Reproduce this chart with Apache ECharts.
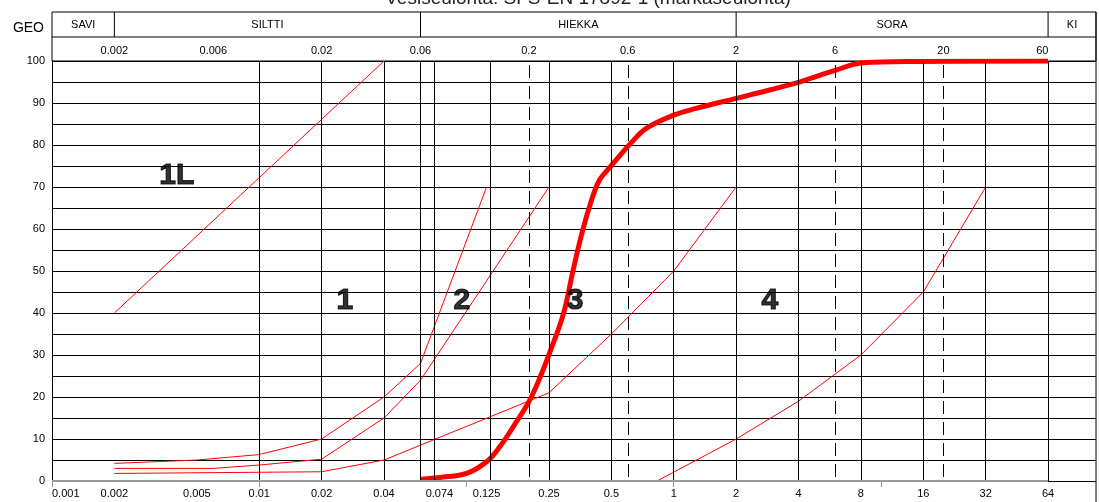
<!DOCTYPE html>
<html lang="fi">
  <head>
    <meta charset="UTF-8" />
    <script src="https://cdn.jsdelivr.net/npm/echarts@6/dist/echarts.min.js"></script>
    <title>Rakeisuuskäyrä</title>
    <style>
      html, body { margin: 0; padding: 0; background: #fff; }
      #app { width: 1099px; height: 502px; }
    </style>
  </head>
  <body>
    <div id="app"></div>

    <script>
      // raekoko (mm), log-asteikko
      const xMin = 0.001;
      const xMax = 109; // ruudukko jatkuu hieman 64 mm ohi

      const bottomTicks = [0.001, 0.002, 0.005, 0.01, 0.02, 0.04, 0.074, 0.125, 0.25, 0.5, 1, 2, 4, 8, 16, 32, 64];
      const topTicks = [0.002, 0.006, 0.02, 0.06, 0.2, 0.6, 2, 6, 20, 60];
      const decadeTicks = [0.001, 0.01, 0.1, 1, 10];
      const solidGrid = [0.002, 0.005, 0.01, 0.02, 0.04, 0.06, 0.074, 0.125, 0.25, 0.5, 1, 2, 4, 8, 16, 32, 64];
      const dashedGrid = [0.006, 0.2, 0.6, 6, 20];

      const zoneNames = ["SAVI", "SILTTI", "HIEKKA", "SORA", "KI"];
      const zoneBounds = [0.001, 0.002, 0.06, 2, 64, xMax];

      // rajakäyrät
      const line1L = [[0.002, 40], [0.04, 100]];
      const lineA = [[0.002, 4.2], [0.005, 5], [0.01, 6.3], [0.02, 10], [0.04, 20], [0.06, 28], [0.125, 70]];
      const lineB = [[0.002, 3], [0.006, 3], [0.01, 3.8], [0.02, 5.2], [0.04, 15], [0.06, 24], [0.25, 70]];
      const lineC = [[0.002, 1.8], [0.02, 2.2], [0.04, 5], [0.25, 21], [0.5, 35], [1, 50], [2, 70]];
      const lineD = [[0.83, 0], [2, 10], [4, 19], [8, 30], [16, 45], [32, 70]];

      // näyte
      const sample = [
        [0.06, 0.4], [0.079, 1.0], [0.1, 1.8], [0.125, 4.6], [0.145, 8.2], [0.168, 12.9],
        [0.2, 18.9], [0.227, 24.8], [0.253, 30.8], [0.294, 39.9], [0.327, 50.2], [0.364, 59.8],
        [0.405, 67.5], [0.439, 71.7], [0.49, 74.6], [0.53, 76.6], [0.62, 80.4], [0.74, 84], [1, 87.1],
        [1.28, 88.7], [2, 91.1], [2.9, 93.1], [4.1, 95.1], [6.1, 97.9], [8.2, 99.6],
        [14.5, 99.9], [64, 100],
      ];

      const zoneMarks = [
        ["1L", 0.004, 72.6],
        ["1", 0.0259, 43],
        ["2", 0.095, 43],
        ["3", 0.334, 43],
        ["4", 2.91, 43],
      ];

      const fmt = (v) => String(+Number(v).toPrecision(3));
      const labelFont = { fontFamily: "Liberation Sans", fontSize: 11, color: "#000" };

      const redLine = (data, width) => ({
        type: "line",
        data: data,
        symbol: "none",
        silent: true,
        z: 3,
        lineStyle: { color: "#ff0000", width: width },
      });

      const echart = echarts.init(document.getElementById("app"));

      echart.setOption({
        animation: false,
        grid: { left: 52, right: 3, top: 61, bottom: 21 },
        xAxis: [
          {
            type: "log",
            logBase: 10,
            min: xMin,
            max: xMax,
            position: "bottom",
            axisLine: { show: false },
            axisTick: {
              show: true,
              customValues: decadeTicks,
              length: 6,
              lineStyle: { color: "#999", width: 1 },
            },
            axisLabel: Object.assign({ customValues: bottomTicks, formatter: fmt, margin: 7, alignMinLabel: "left" }, labelFont),
            splitLine: { show: false },
            minorTick: { show: false },
          },
          {
            type: "log",
            logBase: 10,
            min: xMin,
            max: xMax,
            position: "top",
            axisLine: { show: false },
            axisTick: { show: false },
            axisLabel: Object.assign({ customValues: topTicks, formatter: fmt, margin: 5 }, labelFont),
            splitLine: { show: false },
          },
        ],
        yAxis: {
          type: "value",
          min: 0,
          max: 100,
          interval: 5,
          axisLine: { show: true, lineStyle: { color: "#000", width: 1 } },
          axisTick: { show: false },
          axisLabel: Object.assign(
            { margin: 7, formatter: (v) => (v % 10 === 0 ? String(v) : "") },
            labelFont
          ),
          splitLine: { show: true, lineStyle: { color: "#000", width: 1 } },
        },
        series: [
          {
            // pystyviivat + harmaa akseli
            type: "line",
            data: [],
            silent: true,
            z: 1,
            markLine: {
              silent: true,
              symbol: "none",
              label: { show: false },
              animation: false,
              data: [
                ...solidGrid.map((v) => ({ xAxis: v, lineStyle: { color: "#000", width: 1, type: "solid" } })),
                ...dashedGrid.map((v) => ({
                  xAxis: v,
                  lineStyle: { color: "#000", width: 1, type: [13, 8], dashOffset: 17 },
                })),
                [
                  { coord: [xMin, 0], lineStyle: { color: "#999", width: 2, type: "solid" } },
                  { coord: [64, 0] },
                ],
              ],
            },
          },
          redLine(line1L, 1),
          redLine(lineA, 1),
          redLine(lineB, 1),
          redLine(lineC, 1),
          redLine(lineD, 1),
          Object.assign(redLine(sample, 5), { smooth: 0.4, z: 4 }),
          {
            type: "scatter",
            data: zoneMarks.map((m) => ({ name: m[0], value: [m[1], m[2]] })),
            symbolSize: 1,
            itemStyle: { color: "rgba(0,0,0,0)" },
            silent: true,
            z: 5,
            label: {
              show: true,
              position: "inside",
              formatter: "{b}",
              fontFamily: "Liberation Sans",
              fontWeight: "bold",
              fontSize: 30,
              color: "#000",
              textBorderColor: "#000",
              textBorderWidth: 1.2,
            },
          },
        ],
      });

      // otsikkolaatikko
      const px = (v) => echart.convertToPixel({ xAxisIndex: 0 }, v);
      const boxLeft = px(xMin);
      const boxRight = px(xMax);
      const boxTop = 12;
      const boxMid = 37;
      const boxBottom = 61;
      const black = { stroke: "#000", lineWidth: 1 };

      const graphic = [
        {
          type: "text",
          x: 588,
          y: 8,
          style: {
            text: "Vesiseulonta: SFS-EN 17892-1 (märkäseulonta)",
            font: "19px 'Liberation Sans'",
            fill: "#222",
            align: "center",
            verticalAlign: "bottom",
          },
        },
        {
          type: "rect",
          shape: { x: boxLeft, y: boxTop, width: boxRight - boxLeft, height: boxBottom - boxTop },
          style: Object.assign({ fill: null }, black),
        },
        { type: "line", shape: { x1: boxLeft, y1: boxMid, x2: boxRight, y2: boxMid }, style: black },
        { type: "line", shape: { x1: boxRight, y1: boxTop, x2: boxRight, y2: 502 }, style: black },
        {
          type: "text",
          x: 44,
          y: 28,
          style: { text: "GEO", font: "14px 'Liberation Sans'", fill: "#000", align: "right", verticalAlign: "middle" },
        },
      ];
      zoneBounds.slice(1, -1).forEach((v) => {
        const x = px(v);
        graphic.push({ type: "line", shape: { x1: x, y1: boxTop, x2: x, y2: boxMid }, style: black });
      });
      zoneNames.forEach((name, i) => {
        const cx = (px(zoneBounds[i]) + px(zoneBounds[i + 1])) / 2;
        graphic.push({
          type: "text",
          x: cx,
          y: 25,
          style: { text: name, font: "11px 'Liberation Sans'", fill: "#000", align: "center", verticalAlign: "middle" },
        });
      });
      echart.setOption({ graphic: graphic.map((g) => Object.assign({ silent: true }, g)) });
    </script>
  </body>
</html>
